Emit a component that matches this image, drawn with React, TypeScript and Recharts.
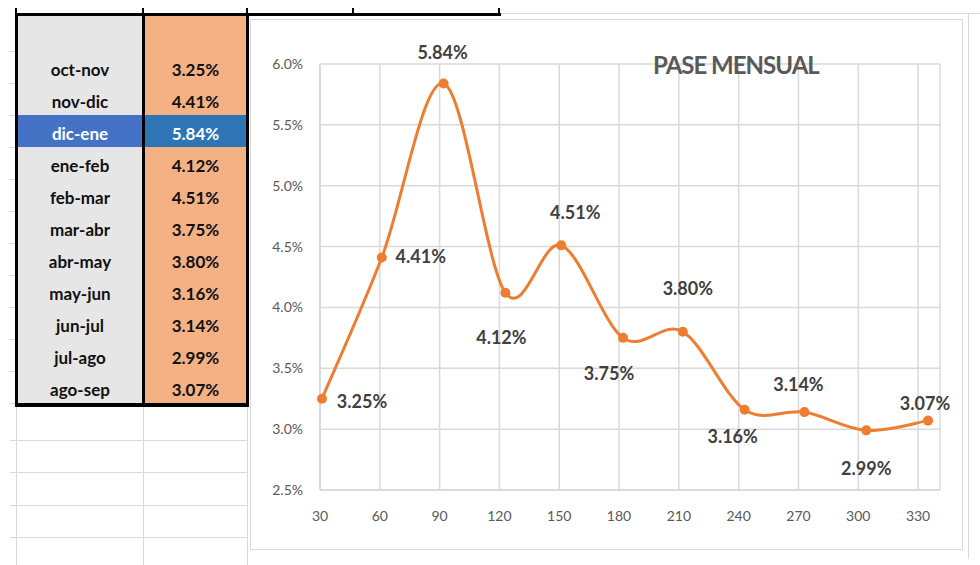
import React from 'react';
import { LineChart, Line, XAxis, YAxis, CartesianGrid, LabelList } from 'recharts';

// table + chart data
const periods = ['oct-nov', 'nov-dic', 'dic-ene', 'ene-feb', 'feb-mar', 'mar-abr', 'abr-may', 'may-jun', 'jun-jul', 'jul-ago', 'ago-sep'];
const pase = [3.25, 4.41, 5.84, 4.12, 4.51, 3.75, 3.8, 3.16, 3.14, 2.99, 3.07];
const days = [31, 61, 92, 123, 151, 182, 212, 243, 273, 304, 335];
const xTicks = [30, 60, 90, 120, 150, 180, 210, 240, 270, 300, 330];
const yTicks = [2.5, 3.0, 3.5, 4.0, 4.5, 5.0, 5.5, 6.0];
const highlighted = 'dic-ene';

// where each data label sits relative to its point (dx, dy)
const labelOffsets: [number, number][] = [
  [40, 2], [39, -2], [-1, -31], [-4, 44], [14, -33], [-14, 35],
  [5, -44], [-12, 26], [-6, -28], [0, 38], [-3, -18],
];

const data = days.map((day, i) => ({ day, pase: pase[i], period: periods[i] }));

// Excel-like smoothed line (Catmull-Rom as cubic beziers)
const excelCurve = (ctx: any) => {
  let pts: [number, number][] = [];
  return {
    areaStart() {},
    areaEnd() {},
    lineStart() {
      pts = [];
    },
    point(x: number, y: number) {
      pts.push([+x, +y]);
    },
    lineEnd() {
      if (!pts.length) return;
      ctx.moveTo(pts[0][0], pts[0][1]);
      for (let i = 0; i < pts.length - 1; i++) {
        const p0 = pts[i - 1] || pts[i];
        const p1 = pts[i];
        const p2 = pts[i + 1];
        const p3 = pts[i + 2] || p2;
        ctx.bezierCurveTo(
          p1[0] + (p2[0] - p0[0]) / 6,
          p1[1] + (p2[1] - p0[1]) / 6,
          p2[0] - (p3[0] - p1[0]) / 6,
          p2[1] - (p3[1] - p1[1]) / 6,
          p2[0],
          p2[1]
        );
      }
    },
  };
};

const FONT = 'Lato, "Open Sans", sans-serif';
const GRID = '#d9d9d9';
const ORANGE = '#ED7D31';

const PointLabel = (props: any) => {
  const { x, y, value } = props;
  let idx = props.index;
  if (idx == null) idx = pase.indexOf(value);
  const [dx, dy] = labelOffsets[idx] || [0, -20];
  return (
    <text
      x={x + dx}
      y={y + dy}
      textAnchor="middle"
      dominantBaseline="central"
      fill="#404040"
      fontSize={18}
      fontWeight={700}
      fontFamily={FONT}
    >
      {value.toFixed(2)}%
    </text>
  );
};

const line = (left: number, top: number, width: number, height: number, color: string) => (
  <div style={{ position: 'absolute', left, top, width, height, background: color }} />
);

export default function App() {
  const rowTop = 51;
  const rowH = 32;

  return (
    <div
      style={{
        position: 'fixed',
        left: 0,
        top: 0,
        width: 980,
        height: 565,
        background: '#fff',
        overflow: 'hidden',
        fontFamily: FONT,
      }}
    >
      {/* spreadsheet grid bits */}
      {line(500, 13, 480, 1, GRID)}
      {[440, 472, 505, 537].map((y) => (
        <React.Fragment key={y}>{line(10, y, 238, 1, GRID)}</React.Fragment>
      ))}
      {[16, 143, 247].map((x) => (
        <React.Fragment key={x}>{line(x, 407, 1, 158, GRID)}</React.Fragment>
      ))}
      {Array.from({ length: 12 }, (_, i) => rowTop + i * rowH).map((y) => (
        <React.Fragment key={'t' + y}>{line(9, y, 6, 1, GRID)}</React.Fragment>
      ))}
      {line(968, 14, 1, 545, GRID)}

      {/* row above: bottom border */}
      {line(15, 13, 486, 3, '#000')}
      {[15, 142, 246, 352, 498].map((x) => (
        <React.Fragment key={'v' + x}>{line(x, 8, 2, 6, '#000')}</React.Fragment>
      ))}

      {/* table */}
      <div style={{ position: 'absolute', left: 18, top: 16, width: 124, height: 388, background: '#e7e6e6' }} />
      <div style={{ position: 'absolute', left: 145, top: 16, width: 101, height: 388, background: '#f4b183' }} />
      {periods.map((p, i) => {
        const hi = p === highlighted;
        const top = rowTop + i * rowH;
        const cell = {
          position: 'absolute' as const,
          top,
          height: rowH,
          display: 'flex',
          alignItems: 'center',
          justifyContent: 'center',
          paddingTop: 5,
          boxSizing: 'border-box' as const,
          fontSize: 17,
          fontWeight: 700,
          color: hi ? '#fff' : '#111',
        };
        return (
          <React.Fragment key={p}>
            <div style={{ ...cell, left: 18, width: 124, background: hi ? '#4472c4' : undefined }}>{p}</div>
            <div style={{ ...cell, left: 145, width: 101, background: hi ? '#2e75b6' : undefined }}>
              {pase[i].toFixed(2)}%
            </div>
          </React.Fragment>
        );
      })}
      {line(15, 13, 3, 394, '#000')}
      {line(142, 13, 3, 394, '#000')}
      {line(246, 13, 3, 394, '#000')}
      {line(15, 403, 234, 4, '#000')}

      {/* chart box */}
      <div
        style={{
          position: 'absolute',
          left: 250,
          top: 19,
          width: 713,
          height: 531,
          border: '1px solid ' + GRID,
          boxSizing: 'border-box',
          background: '#fff',
        }}
      >
        <LineChart
          width={713}
          height={531}
          data={data}
          margin={{ top: 44, right: 24, bottom: 31, left: 19 }}
          style={{ fontFamily: FONT }}
        >
          <CartesianGrid stroke={GRID} strokeWidth={1.5} />
          <XAxis
            dataKey="day"
            type="number"
            domain={[30, 341]}
            ticks={xTicks}
            interval={0}
            tickLine={false}
            tickSize={0}
            tickMargin={21}
            height={30}
            axisLine={{ stroke: GRID, strokeWidth: 1.5 }}
            tick={{ fill: '#595959', fontSize: 14 }}
          />
          <YAxis
            type="number"
            domain={[2.5, 6]}
            ticks={yTicks}
            interval={0}
            tickFormatter={(v: number) => v.toFixed(1) + '%'}
            tickLine={false}
            tickSize={0}
            tickMargin={17}
            width={50}
            axisLine={{ stroke: GRID, strokeWidth: 1.5 }}
            tick={{ fill: '#595959', fontSize: 14 }}
          />
          <Line
            dataKey="pase"
            type={excelCurve as any}
            stroke={ORANGE}
            strokeWidth={3}
            dot={{ r: 5, fill: ORANGE, stroke: ORANGE, strokeWidth: 0 }}
            activeDot={false}
            isAnimationActive={false}
          >
            <LabelList dataKey="pase" content={PointLabel} />
          </Line>
        </LineChart>
        <div
          style={{
            position: 'absolute',
            left: 402,
            top: 30,
            width: 160,
            textAlign: 'center',
            fontSize: 24,
            fontWeight: 700,
            color: '#595959',
            letterSpacing: -1,
            whiteSpace: 'nowrap',
          }}
        >
          PASE MENSUAL
        </div>
      </div>
    </div>
  );
}
